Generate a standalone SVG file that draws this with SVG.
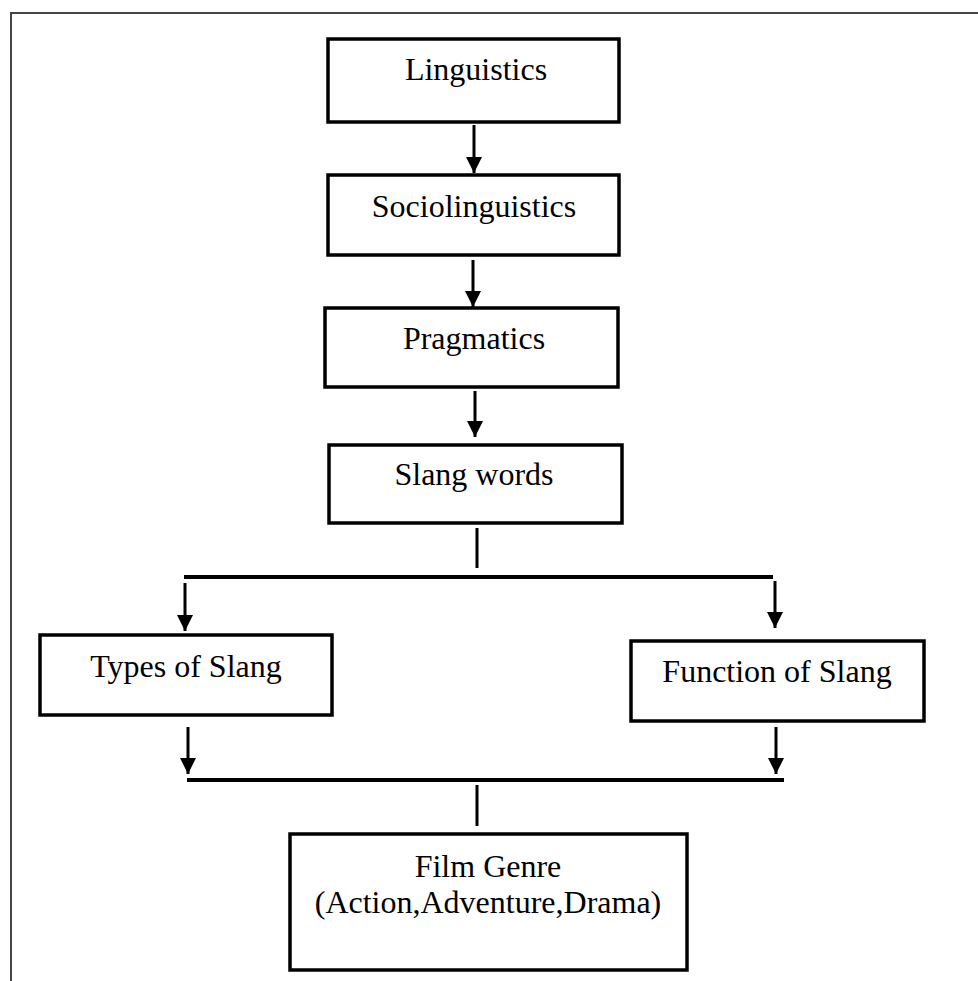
<svg xmlns="http://www.w3.org/2000/svg" width="978" height="981" viewBox="0 0 978 981">
<style>
.box{fill:#fff;stroke:#000;stroke-width:3.5}
.lbl{font-family:"Liberation Serif","Times New Roman",serif;font-size:32px;fill:#000;text-anchor:middle}
.ln{stroke:#000;stroke-width:3;fill:none}
.bar{stroke:#000;stroke-width:4;fill:none}
.frame{stroke:#444;stroke-width:2;fill:none}
</style>
<defs>
<marker id="ah" markerWidth="16" markerHeight="16" viewBox="0 0 16 16" refX="16" refY="8" orient="auto" markerUnits="userSpaceOnUse">
<path d="M0,0 L16,8 L0,16 Z" fill="#000"/>
</marker>
</defs>
<rect width="978" height="981" fill="#fff"/>
<path class="frame" d="M11,981 V13 H978"/>
<g id="linguistics">
<rect class="box" x="328" y="39" width="291" height="83"/>
<text class="lbl" x="476" y="80">Linguistics</text>
</g>
<g id="sociolinguistics">
<rect class="box" x="328" y="175" width="291" height="80"/>
<text class="lbl" x="474" y="217">Sociolinguistics</text>
</g>
<g id="pragmatics">
<rect class="box" x="325" y="308" width="293" height="79"/>
<text class="lbl" x="474" y="349">Pragmatics</text>
</g>
<g id="slang-words">
<rect class="box" x="329" y="445" width="293" height="78"/>
<text class="lbl" x="474" y="485">Slang words</text>
</g>
<g id="types-of-slang">
<rect class="box" x="40" y="635" width="292" height="80"/>
<text class="lbl" x="186" y="677">Types of Slang</text>
</g>
<g id="function-of-slang">
<rect class="box" x="631" y="641" width="293" height="80"/>
<text class="lbl" x="777" y="682">Function of Slang</text>
</g>
<g id="film-genre">
<rect class="box" x="290" y="834" width="397" height="136"/>
<text class="lbl" x="488" y="877">Film Genre</text>
<text class="lbl" x="488" y="913">(Action,Adventure,Drama)</text>
</g>
<g id="connectors">
<line class="ln" x1="474" y1="125" x2="474" y2="173" marker-end="url(#ah)"/>
<line class="ln" x1="473" y1="260" x2="473" y2="307" marker-end="url(#ah)"/>
<line class="ln" x1="475" y1="391" x2="475" y2="437" marker-end="url(#ah)"/>
<line class="ln" x1="477" y1="528" x2="477" y2="568"/>
<line class="bar" x1="184" y1="577" x2="773" y2="577"/>
<line class="ln" x1="185" y1="583" x2="185" y2="631" marker-end="url(#ah)"/>
<line class="ln" x1="775" y1="581" x2="775" y2="628" marker-end="url(#ah)"/>
<line class="ln" x1="188" y1="727" x2="188" y2="774" marker-end="url(#ah)"/>
<line class="ln" x1="776" y1="727" x2="776" y2="774" marker-end="url(#ah)"/>
<line class="bar" x1="187" y1="780" x2="784" y2="780"/>
<line class="ln" x1="477" y1="785" x2="477" y2="826"/>
</g>
</svg>
